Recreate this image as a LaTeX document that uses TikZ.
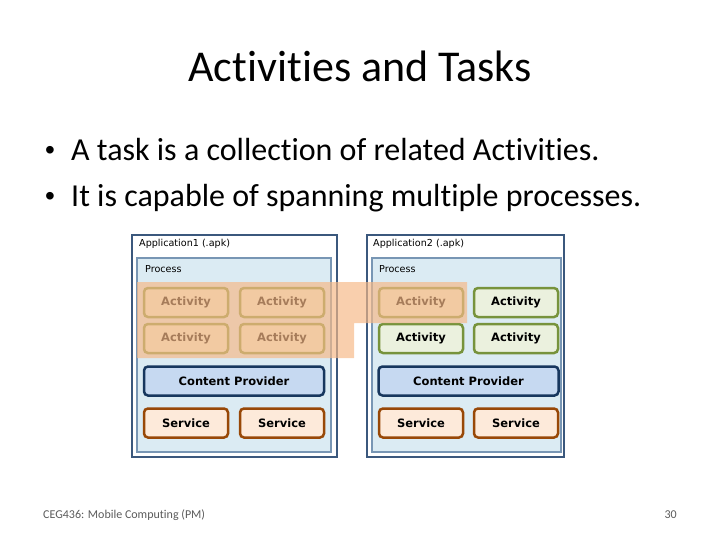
\documentclass[tikz,border=0pt]{standalone}
\usepackage{fontspec}
\setmainfont{Carlito}[Ligatures=CommonOff]
\newfontfamily\djs{DejaVu Sans}
\newfontfamily\bulletfont{Liberation Sans}
\definecolor{appborder}{RGB}{59,88,125}
\definecolor{procfill}{RGB}{219,235,243}
\definecolor{procborder}{RGB}{120,150,180}
\definecolor{actfill}{RGB}{235,241,222}
\definecolor{actborder}{RGB}{119,147,60}
\definecolor{cpfill}{RGB}{198,217,241}
\definecolor{cpborder}{RGB}{23,55,94}
\definecolor{svfill}{RGB}{253,234,218}
\definecolor{svborder}{RGB}{152,72,7}
\definecolor{taskfill}{RGB}{246,184,134}
\definecolor{footgray}{RGB}{90,90,90}
\begin{document}
\begin{tikzpicture}[x=1pt,y=-1pt,
  appbox/.style={draw=appborder,line width=2.5pt,fill=white},
  procbox/.style={draw=procborder,line width=1.5pt,fill=procfill},
  smalllabel/.style={font=\djs\fontsize{9.6}{11}\selectfont,anchor=west,inner sep=0},
  comp/.style={rounded corners=4pt,line width=2.5pt,inner sep=0,
    font=\djs\bfseries\fontsize{11.5}{13}\selectfont,minimum height=29pt},
  actbox/.style={comp,draw=actborder,fill=actfill,minimum width=84pt},
  cpbox/.style={comp,draw=cpborder,fill=cpfill,minimum width=180pt},
  svbox/.style={comp,draw=svborder,fill=svfill,minimum width=84pt},
  taskarea/.style={fill=taskfill,fill opacity=0.68},
  bodytext/.style={font=\fontsize{32}{38}\selectfont,inner sep=0},
  bulletmark/.style={font=\bulletfont\fontsize{28}{32}\selectfont,inner sep=0,anchor=base}
]
\useasboundingbox (0,0) rectangle (720,540);

\node[font=\fontsize{44}{52}\selectfont,anchor=base,inner sep=0] (title) at (360,82) {Activities and Tasks};
\node[bulletmark] (b1) at (50,160) {•};
\node[bodytext,anchor=base west] (t1) at (71,161) {A task is a collection of related Activities.};
\node[bulletmark] (b2) at (50,206) {•};
\node[bodytext,anchor=base west] (t2) at (71,207) {It is capable of spanning multiple processes.};

% Application 1
\draw[appbox] (132,235) rectangle (337,457);
\node[smalllabel] (app1) at (139,244) {Application1 (.apk)};
\draw[procbox] (137,258) rectangle (331,452);
\node[smalllabel] (proc1) at (145,269) {Process};
\node[actbox] (a11) at (186,302.5) {Activity};
\node[actbox] (a12) at (282,302.5) {Activity};
\node[actbox] (a13) at (186,338.5) {Activity};
\node[actbox] (a14) at (282,338.5) {Activity};
\node[cpbox] (cp1) at (234,381) {Content Provider};
\node[svbox] (s11) at (186,423) {Service};
\node[svbox] (s12) at (282,423) {Service};

% Application 2
\draw[appbox] (367,235) rectangle (564,457);
\node[smalllabel] (app2) at (373,244) {Application2 (.apk)};
\draw[procbox] (372,258) rectangle (561,452);
\node[smalllabel] (proc2) at (379,269) {Process};
\node[actbox] (a21) at (421,302.5) {Activity};
\node[actbox] (a22) at (516,302.5) {Activity};
\node[actbox] (a23) at (421,338.5) {Activity};
\node[actbox] (a24) at (516,338.5) {Activity};
\node[cpbox] (cp2) at (468.5,381) {Content Provider};
\node[svbox] (s21) at (421,423) {Service};
\node[svbox] (s22) at (516,423) {Service};

% task overlay
\fill[taskarea] (137,282) -- (467,282) -- (467,323) -- (354,323) -- (354,358) -- (137,358) -- cycle;

\node[font=\fontsize{12}{14}\selectfont,text=footgray,anchor=west,inner sep=0] (foot) at (43,515) {CEG436: Mobile Computing (PM)};
\node[font=\fontsize{12}{14}\selectfont,text=footgray,anchor=east,inner sep=0] (page) at (677,515) {30};
\end{tikzpicture}
\end{document}
